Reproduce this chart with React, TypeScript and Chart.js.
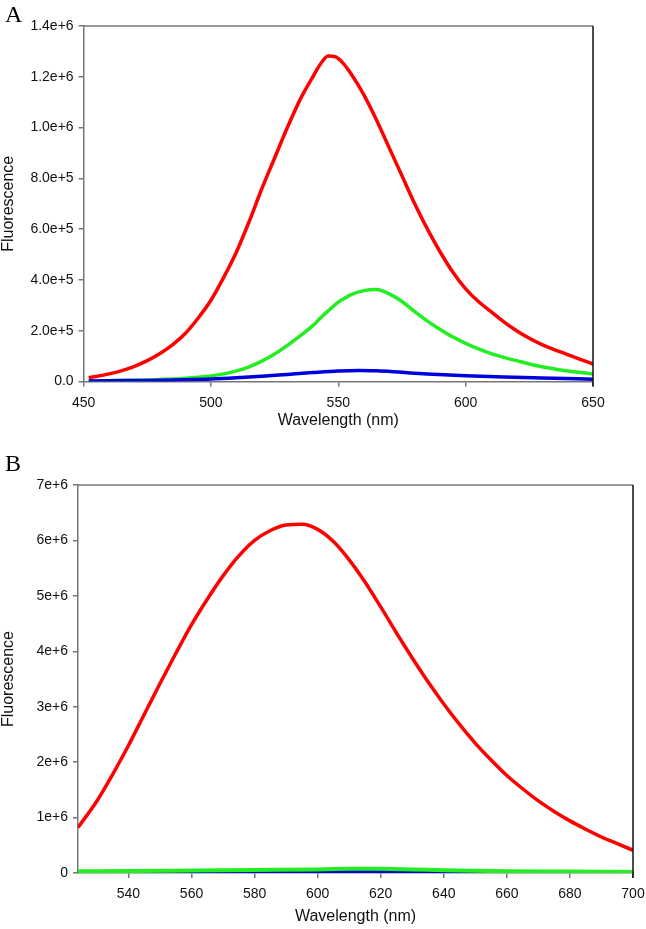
import React, { useEffect, useRef } from "react";
import { Chart, registerables } from "chart.js";

Chart.register(...registerables);

// ---------- Panel A data ----------
const aWavelengths = [452, 455, 460, 465, 470, 475, 480, 485, 490, 495, 500, 505, 510, 515, 520, 525, 530, 535, 540, 543, 546, 549, 552, 555, 560, 565, 570, 575, 580, 585, 590, 595, 600, 605, 610, 615, 620, 625, 630, 635, 640, 645, 650];
const aRed = [15000, 20000, 30000, 43000, 60000, 82000, 110000, 145000, 190000, 250000, 320000, 410000, 510000, 630000, 760000, 880000, 1000000, 1110000, 1200000, 1250000, 1282000, 1278000, 1252000, 1212000, 1130000, 1030000, 920000, 810000, 700000, 600000, 510000, 430000, 365000, 315000, 275000, 235000, 200000, 170000, 145000, 125000, 106000, 87000, 69000];
const aGreen = [2000, 2000, 3000, 4000, 5000, 6000, 8000, 10000, 13000, 17000, 22000, 30000, 42000, 58000, 80000, 108000, 142000, 180000, 220000, 250000, 278000, 305000, 325000, 342000, 358000, 362000, 345000, 315000, 275000, 238000, 205000, 175000, 150000, 128000, 110000, 95000, 82000, 69000, 58000, 49000, 41000, 35000, 30000];
const aBlueWavelengths = [452, 460, 470, 480, 490, 500, 510, 520, 530, 540, 550, 558, 565, 575, 585, 600, 615, 630, 650];
const aBlue = [2000, 3000, 4000, 5000, 7000, 10000, 15000, 21000, 28000, 35000, 41000, 43000, 42000, 36000, 30000, 23000, 18000, 14000, 9000];
const aYTicks = [0, 200000, 400000, 600000, 800000, 1000000, 1200000, 1400000];
const aXTicks = [450, 500, 550, 600, 650];

// ---------- Panel B data ----------
const bRedWavelengths = [524, 530, 535, 540, 545, 550, 555, 560, 565, 570, 575, 580, 585, 590, 595, 600, 605, 610, 615, 620, 625, 630, 635, 640, 645, 650, 655, 660, 665, 670, 675, 680, 685, 690, 695, 700];
const bRed = [820000, 1300000, 1780000, 2300000, 2860000, 3420000, 3960000, 4480000, 4940000, 5360000, 5720000, 6000000, 6180000, 6280000, 6290000, 6200000, 5980000, 5650000, 5250000, 4800000, 4330000, 3880000, 3450000, 3050000, 2680000, 2340000, 2040000, 1760000, 1520000, 1300000, 1110000, 940000, 790000, 650000, 530000, 410000];
const bGreenWavelengths = [524, 540, 560, 580, 600, 610, 615, 620, 630, 640, 660, 680, 700];
const bGreen = [30000, 35000, 45000, 55000, 65000, 75000, 78000, 75000, 65000, 50000, 30000, 25000, 20000];
const bBlueWavelengths = [524, 560, 590, 610, 620, 640, 660, 700];
const bBlue = [5000, 10000, 18000, 25000, 25000, 18000, 10000, 5000];
const bYTicks = [0, 1000000, 2000000, 3000000, 4000000, 5000000, 6000000, 7000000];
const bXTicks = [540, 560, 580, 600, 620, 640, 660, 680, 700];

const RED = "#ff0000";
const GREEN = "#22ee22";
const BLUE = "#0000dd";
const FONT = "'Liberation Sans', Arial, Helvetica, sans-serif";

const toXY = (xs: number[], ys: number[]) => xs.map((x, i) => ({ x, y: ys[i] }));

const framePlugin = {
  id: "frame",
  afterDatasetsDraw(chart: any) {
    const { ctx, chartArea } = chart;
    const { left, right, top, bottom } = chartArea;
    ctx.save();
    ctx.lineWidth = 1.5;
    ctx.strokeStyle = "#777";
    ctx.beginPath();
    ctx.moveTo(left, top);
    ctx.lineTo(right, top);
    ctx.stroke();
    ctx.strokeStyle = "#111";
    ctx.beginPath();
    ctx.moveTo(right, top);
    ctx.lineTo(right, bottom + 5);
    ctx.stroke();
    ctx.restore();
  },
};

type PanelProps = {
  width: number;
  height: number;
  datasets: any[];
  xMin: number;
  xMax: number;
  xTicks: number[];
  yMax: number;
  yTicks: number[];
  yFormat: (v: number) => string;
  yAxisWidth: number;
  xAxisHeight: number;
  padTop: number;
  padRight: number;
};

function Panel(p: PanelProps) {
  const ref = useRef<HTMLCanvasElement>(null);
  useEffect(() => {
    if (!ref.current) return;
    const chart = new Chart(ref.current, {
      type: "line",
      data: { datasets: p.datasets },
      plugins: [framePlugin],
      options: {
        animation: false,
        responsive: false,
        devicePixelRatio: 1,
        layout: { padding: { top: p.padTop, right: p.padRight, left: 0, bottom: 0 } },
        plugins: { legend: { display: false }, tooltip: { enabled: false } },
        elements: { point: { radius: 0 }, line: { cubicInterpolationMode: "monotone" } },
        scales: {
          x: {
            type: "linear",
            min: p.xMin,
            max: p.xMax,
            afterFit: (s: any) => {
              s.height = p.xAxisHeight;
              s.paddingLeft = 0;
              s.paddingRight = 0;
            },
            afterBuildTicks: (s: any) => {
              s.ticks = p.xTicks.map((v) => ({ value: v }));
            },
            ticks: {
              color: "#111",
              font: { family: FONT, size: 14 },
              padding: 8,
              maxRotation: 0,
              autoSkip: false,
              callback: (v: any) => String(v),
            },
            grid: { display: true, drawOnChartArea: false, drawTicks: true, tickLength: 5, color: "#777", lineWidth: 1.5 },
            border: { display: true, color: "#777", width: 1.5 },
            title: {
              display: true,
              text: "Wavelength (nm)",
              color: "#111",
              font: { family: FONT, size: 16 },
              padding: { top: 0, bottom: 2 },
            },
          },
          y: {
            type: "linear",
            min: 0,
            max: p.yMax,
            afterFit: (s: any) => {
              s.width = p.yAxisWidth;
              s.paddingTop = 0;
              s.paddingBottom = 0;
            },
            afterBuildTicks: (s: any) => {
              s.ticks = p.yTicks.map((v) => ({ value: v }));
            },
            ticks: {
              color: "#111",
              font: { family: FONT, size: 14 },
              padding: 5,
              autoSkip: false,
              callback: (v: any) => p.yFormat(Number(v)),
            },
            grid: { display: true, drawOnChartArea: false, drawTicks: true, tickLength: 5, color: "#777", lineWidth: 1.5 },
            border: { display: true, color: "#777", width: 1.5 },
            title: {
              display: true,
              text: "Fluorescence",
              color: "#111",
              font: { family: FONT, size: 16 },
              padding: { top: -1, bottom: 0 },
            },
          },
        },
      },
    });
    return () => chart.destroy();
  }, []);
  return <canvas ref={ref} width={p.width} height={p.height} style={{ display: "block", width: p.width, height: p.height }} />;
}

const mk = (label: string, xs: number[], ys: number[], color: string, w: number) => ({
  label,
  data: toXY(xs, ys),
  borderColor: color,
  backgroundColor: color,
  borderWidth: w,
  fill: false,
  pointRadius: 0,
});

export default function App() {
  const letterStyle: React.CSSProperties = {
    position: "absolute",
    left: 5,
    fontFamily: "'Liberation Serif', 'Times New Roman', serif",
    fontSize: 24,
    lineHeight: "24px",
    color: "#000",
  };
  return (
    <div style={{ position: "fixed", left: 0, top: 0, width: 646, height: 929, background: "#fff" }}>
      <div style={{ position: "absolute", left: 0, top: 0 }}>
        <Panel
          width={646}
          height={432}
          datasets={[
            mk("blue", aBlueWavelengths, aBlue, BLUE, 3.5),
            mk("green", aWavelengths, aGreen, GREEN, 3.5),
            mk("red", aWavelengths, aRed, RED, 3.5),
          ]}
          xMin={450}
          xMax={650}
          xTicks={aXTicks}
          yMax={1400000}
          yTicks={aYTicks}
          yFormat={(v) => (v === 0 ? "0.0" : Math.round(v).toExponential(1))}
          yAxisWidth={83.6}
          xAxisHeight={432 - 381.5}
          padTop={26}
          padRight={646 - 593}
        />
      </div>
      <div style={{ position: "absolute", left: 0, top: 440 }}>
        <Panel
          width={646}
          height={488}
          datasets={[
            mk("green", bGreenWavelengths, bGreen, GREEN, 4),
            mk("blue", bBlueWavelengths, bBlue, BLUE, 3.5),
            mk("red", bRedWavelengths, bRed, RED, 3.5),
          ]}
          xMin={524}
          xMax={700}
          xTicks={bXTicks}
          yMax={7000000}
          yTicks={bYTicks}
          yFormat={(v) => (v === 0 ? "0" : Math.round(v).toExponential(0))}
          yAxisWidth={78}
          xAxisHeight={488 - 433}
          padTop={45}
          padRight={646 - 633}
        />
      </div>
      <div style={{ ...letterStyle, top: 2 }}>A</div>
      <div style={{ ...letterStyle, top: 451 }}>B</div>
    </div>
  );
}
